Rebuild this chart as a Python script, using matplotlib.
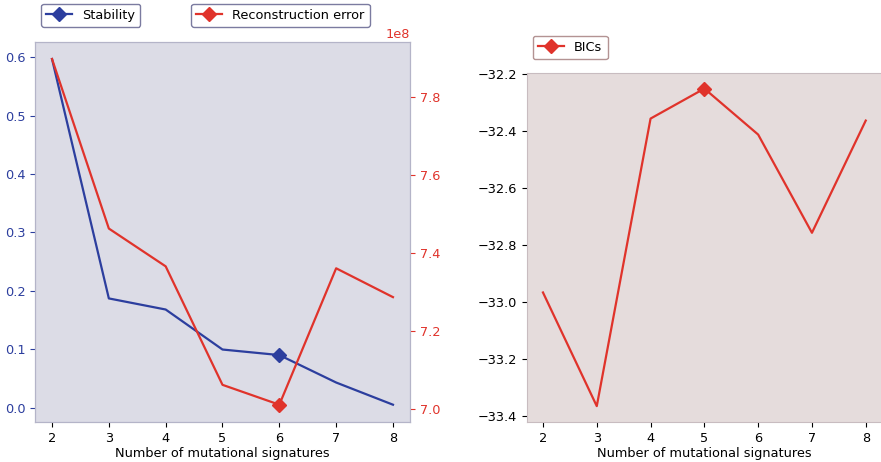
import numpy as np
import matplotlib.pyplot as plt

# number of signatures tried
n_sigs = [2, 3, 4, 5, 6, 7, 8]
stability = [0.597, 0.187, 0.168, 0.0995, 0.090, 0.043, 0.005]
recon_err = [7.897e8, 7.462e8, 7.365e8, 7.061e8, 7.010e8, 7.360e8, 7.286e8]
bics = [-32.966, -33.364, -32.357, -32.252, -32.413, -32.757, -32.364]

best_k = 6       # chosen by stability / reconstruction
best_bic_k = 5   # chosen by BIC

blue = '#2c3e9e'
red = '#e0332b'
fs = 9.3

fig = plt.figure(figsize=(8.81, 4.62), dpi=100)

# --- left panel: stability + reconstruction error
ax1 = fig.add_axes([0.0397, 0.0866, 0.4257, 0.8231])
ax1.set_facecolor('#dcdce6')
for s in ax1.spines.values():
    s.set_color('#b4b4c8')
i = n_sigs.index(best_k)
l1, = ax1.plot(n_sigs, stability, color=blue, lw=1.6, marker='D', ms=7,
               markevery=[i], label='Stability')
ax1.tick_params(axis='y', colors=blue, labelsize=fs)
ax1.tick_params(axis='x', labelsize=fs)
ax1.set_xlabel('Number of mutational signatures', fontsize=fs, labelpad=2)

ax2 = ax1.twinx()
l2, = ax2.plot(n_sigs, recon_err, color=red, lw=1.6, marker='D', ms=7,
               markevery=[i], label='Reconstruction error')
ax2.tick_params(axis='y', colors=red, labelsize=fs)
ax2.yaxis.get_offset_text().set_color(red)
ax2.yaxis.get_offset_text().set_fontsize(fs)
for s in ax2.spines.values():
    s.set_color('#b4b4c8')

leg1 = ax1.legend(handles=[l1], loc='lower left', bbox_to_anchor=(0.016, 1.039),
                  borderaxespad=0, fontsize=fs)
leg1.get_frame().set_edgecolor('#5a5a88')
leg2 = ax2.legend(handles=[l2], loc='lower left', bbox_to_anchor=(0.416, 1.039),
                  borderaxespad=0, fontsize=fs)
leg2.get_frame().set_edgecolor('#5a5a88')

# --- right panel: BIC
ax3 = fig.add_axes([0.598, 0.0866, 0.403, 0.7560])
ax3.set_facecolor('#e5dcdc')
for s in ax3.spines.values():
    s.set_color('#c8bcc0')
j = n_sigs.index(best_bic_k)
l3, = ax3.plot(n_sigs, bics, color=red, lw=1.6, marker='D', ms=7,
               markevery=[j], label='BICs')
ax3.tick_params(labelsize=fs)
ax3.set_xlabel('Number of mutational signatures', fontsize=fs, labelpad=2)
leg3 = ax3.legend(handles=[l3], loc='lower left', bbox_to_anchor=(0.017, 1.039),
                  borderaxespad=0, fontsize=fs)
leg3.get_frame().set_edgecolor('#a07878')

fig.savefig('out.png', dpi=100)
